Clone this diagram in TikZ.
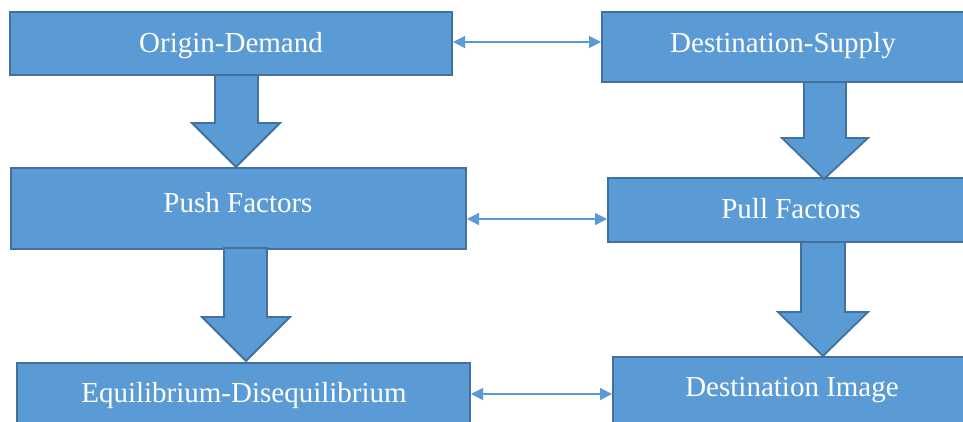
\documentclass[tikz,border=0pt]{standalone}
\usepackage{fontspec}
\setmainfont{Liberation Serif}
\usetikzlibrary{arrows.meta}
\definecolor{boxfill}{HTML}{5B9BD5}
\definecolor{boxline}{HTML}{41719C}
\tikzset{
  box/.style={rectangle, draw=boxline, fill=boxfill, line width=2pt, inner sep=0pt},
  txt/.style={text=white, font=\fontsize{29}{34}\selectfont, inner sep=0pt, anchor=base},
  blockarrow/.style={draw=boxline, fill=boxfill, line width=1.8pt, line join=miter},
  dbl/.style={draw=boxfill, line width=1.3pt, {Triangle[length=12pt,width=12pt]}-{Triangle[length=12pt,width=12pt]}}
}
\begin{document}
\begin{tikzpicture}[x=1pt,y=-1pt]
\useasboundingbox (0,0) rectangle (963,421);
\clip (0,0) rectangle (963,421);
% boxes
\node[box, minimum width=442pt, minimum height=63pt] (od) at (231,43.5) {};
\node[box, minimum width=373pt, minimum height=70pt] (ds) at (788.5,47) {};
\node[box, minimum width=455pt, minimum height=81pt] (ps) at (238.5,208.5) {};
\node[box, minimum width=367pt, minimum height=64pt] (pf) at (791.5,210) {};
\node[box, minimum width=453pt, minimum height=77pt] (eq) at (243.5,401.5) {};
\node[box, minimum width=362pt, minimum height=83pt] (di) at (794,398.5) {};
% texts
\node[txt] (tod) at (231,52) {Origin-Demand};
\node[txt] (tds) at (783,52) {Destination-Supply};
\node[txt] (tps) at (238,212) {Push Factors};
\node[txt] (tpf) at (791,218) {Pull Factors};
\node[txt] (teq) at (244,402) {Equilibrium-Disequilibrium};
\node[txt] (tdi) at (792,396) {Destination Image};
% block arrows
\draw[blockarrow] (215,75) -- (258,75) -- (258,123) -- (280,123) -- (236,167) -- (192,123) -- (215,123) -- cycle;
\draw[blockarrow] (804,82) -- (846,82) -- (846,138) -- (868,138) -- (824,179) -- (782,138) -- (804,138) -- cycle;
\draw[blockarrow] (224,248) -- (267,248) -- (267,317) -- (290,317) -- (246,361) -- (202,317) -- (224,317) -- cycle;
\draw[blockarrow] (801,242) -- (845,242) -- (845,312) -- (868,312) -- (823,356) -- (778,312) -- (801,312) -- cycle;
% double arrows
\draw[dbl] (od.east |- 0,42) -- (ds.west |- 0,42);
\draw[dbl] (ps.east |- 0,219) -- (pf.west |- 0,219);
\draw[dbl] (eq.east |- 0,394) -- (di.west |- 0,394);
\end{tikzpicture}
\end{document}
